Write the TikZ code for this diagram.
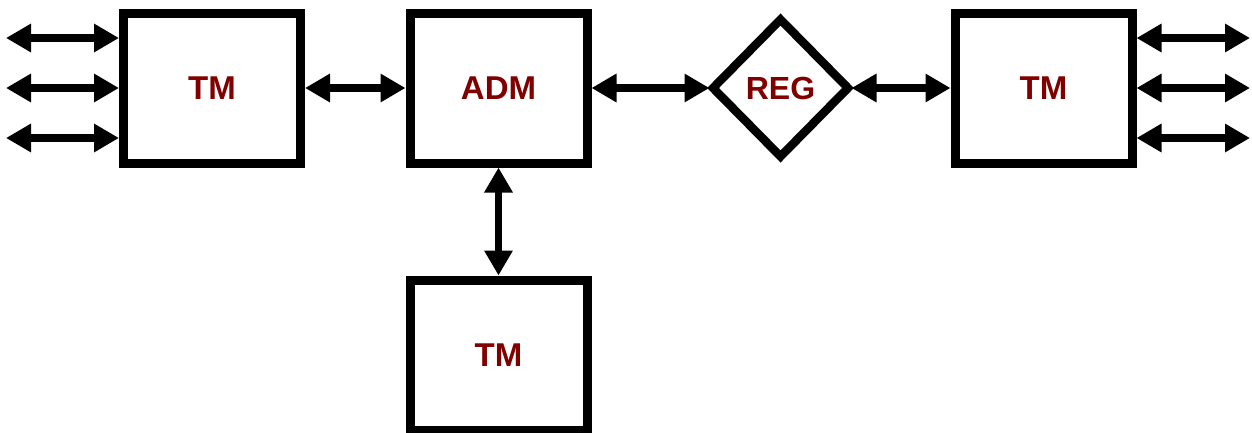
\documentclass[tikz,border=0pt]{standalone}
\usepackage{fontspec}
\setmainfont{Liberation Sans}
\usetikzlibrary{arrows.meta,shapes.geometric}
\definecolor{lbl}{RGB}{128,0,0}
\tikzset{
  box/.style={draw=black, line width=9pt, rectangle, inner sep=0pt,
    minimum width=177pt, minimum height=150pt, fill=white,
    font=\fontsize{33}{36}\selectfont\bfseries, text=lbl},
  regbox/.style={draw=black, line width=8.5pt, diamond, inner sep=0pt,
    outer sep=2.5pt, minimum width=137pt, minimum height=139pt,
    font=\fontsize{32}{36}\selectfont\bfseries, text=lbl},
  link/.style={line width=7.5pt, {Triangle[length=25pt,width=27pt]}-{Triangle[length=25pt,width=27pt]}}
}
\begin{document}
\begin{tikzpicture}[x=1pt,y=-1pt]
\useasboundingbox (0,0) rectangle (1252,432);
\node[box] (tmL) at (212,88) {TM};
\node[box] (adm) at (498.5,88) {ADM};
\node[regbox] (reg) at (780.5,88) {\raisebox{-2pt}{REG}};
\node[box] (tmR) at (1043.5,88) {TM};
\node[box] (tmB) at (498.5,355) {TM};
\coordinate (l1) at (6,38);
\coordinate (l2) at (6,88);
\coordinate (l3) at (6,138);
\coordinate (r1) at (1250,38);
\coordinate (r2) at (1250,88);
\coordinate (r3) at (1250,138);
\draw[link] (l1) -- (tmL.west |- l1);
\draw[link] (l2) -- (tmL.west |- l2);
\draw[link] (l3) -- (tmL.west |- l3);
\draw[link] (tmR.east |- r1) -- (r1);
\draw[link] (tmR.east |- r2) -- (r2);
\draw[link] (tmR.east |- r3) -- (r3);
\draw[link] (tmL.east) -- (adm.west);
\draw[link] (adm.east) -- (reg.west);
\draw[link] (reg.east) -- (tmR.west);
\draw[link] (adm.south) -- (tmB.north);
\end{tikzpicture}
\end{document}
